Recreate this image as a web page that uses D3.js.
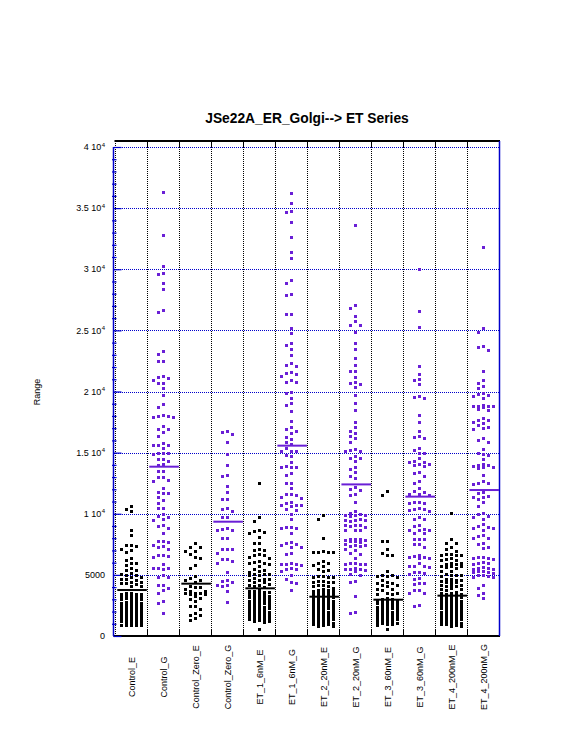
<!DOCTYPE html>
<html>
<head>
<meta charset="utf-8">
<script src="https://cdn.jsdelivr.net/npm/d3@7"></script>
<style>
  html, body { margin: 0; padding: 0; background: #ffffff; }
  svg { display: block; font-family: "Liberation Sans", Arial, Helvetica, sans-serif; }
</style>
</head>
<body>
<svg id="chart" width="576" height="734"></svg>
<script>
const chartTitle = "JSe22A_ER_Golgi--> ET Series";
const yLabel = "Range";
const categories = ["Control_E","Control_G","Control_Zero_E","Control_Zero_G","ET_1_6nM_E","ET_1_6nM_G","ET_2_20nM_E","ET_2_20nM_G","ET_3_60nM_E","ET_3_60nM_G","ET_4_200nM_E","ET_4_200nM_G"];
const seriesKind = ["E","G","E","G","E","G","E","G","E","G","E","G"];
const meanValues = [3760, 13850, 4280, 9350, 3900, 15570, 3215, 12400, 2970, 11400, 3300, 11940];
const yTickValues = [0, 5000, 10000, 15000, 20000, 25000, 30000, 35000, 40000];
const yTickLabels = ["0", "5000", "1 10^4", "1.5 10^4", "2 10^4", "2.5 10^4", "3 10^4", "3.5 10^4", "4 10^4"];

const controlE = [10600,10400,10200,8700,8300,7450,7450,7400,7100,7050,6900,6350,6200,5950,5950,5800,5600,5400,5400,5150,5100,5000,4950,4800,4800,4650,4650,4600,4450,4400,4300,4300,4250,4100,4050,
  3500,3480,3450,3420,3400,3300,3280,3250,3220,3200,3100,3080,3050,3020,3000,
  2850,2810,2760,2720,2690,2650,2600,2570,2520,2480,2450,2400,2370,2320,2280,2250,2200,2170,2120,2080,2050,2000,1970,1920,1880,1850,1800,1770,1720,1680,1650,1600,1570,1520,1480,1450,1400,1370,1320,1280,1250,1200,1170,1120,1080,1050,
  920,900,900,880,900];
const controlG = [36300,32800,30300,29700,29600,28900,28400,26700,26500,23300,23100,22500,22500,21300,21200,21100,20900,20700,20700,20300,19700,19000,18700,18100,18000,18000,17900,17900,17200,16900,16900,16700,16400,15800,15600,15600,15600,15400,15000,15000,14950,14900,14450,14450,14300,14100,14000,13500,13500,13000,13000,12800,12650,12100,11750,11700,11700,11400,11100,10850,10500,10450,9950,9800,9750,9550,9500,9100,9000,8800,8400,7800,7750,7700,7450,7400,7250,7100,6600,6600,6550,6500,5900,5600,5600,5550,5500,4950,4850,4800,4200,4200,3900,3800,3550,2900,2700,1900];
const controlZeroE = [7580,7250,7250,6930,6930,6680,6440,6360,5780,5540,4880,4720,4560,4560,4390,4060,4030,4030,3820,3680,3660,3500,3490,3480,3450,3400,3250,3080,3050,2840,2430,2420,2180,1860,1720,1700,1450,1280];
const controlZeroG = [16750,16700,16500,15900,14850,13950,13200,13050,12300,11800,11200,11200,10450,10350,10200,9700,9700,8850,8750,8700,8650,8050,8000,7100,7100,7100,6750,6300,6300,6100,6000,5200,4550,4500,4400,4200,4150,4050,3650,2750];
const et1E = [12500,9700,9400,8700,8550,8500,8400,8070,7600,7580,7100,7050,7000,6680,6600,6600,6440,6360,6100,6050,6000,5950,5900,5700,5450,5400,5300,5200,5100,5050,5050,5000,4950,4720,4700,4650,4600,4550,4450,4400,4250,4200,4150,4100,4000,
  3750,3700,3660,3600,3560,3500,3460,3400,3350,3300,3260,3200,3150,3100,3060,3000,2950,2900,2860,2800,2750,2700,2660,2600,2550,2500,2460,2400,2350,2300,2260,2200,2150,2100,2060,2000,1950,1900,1860,1800,1750,1700,1660,1600,1550,1500,1460,1400,1350,1300,1250,1200,1150,550];
const et1G = [36200,35400,34800,34700,33900,32600,31400,30900,29100,28850,28000,27900,26300,26300,25200,24800,24000,23800,23500,23000,22300,22200,22100,21600,21500,21400,21300,20900,20750,20750,20000,19900,19500,19100,18900,18400,17600,17100,16950,16750,16600,16250,16100,15900,15700,15350,15100,15100,15100,14800,14700,14200,13900,13850,13850,13800,13300,13200,12500,12500,12100,11650,11600,11550,11400,11300,11000,10850,10750,10700,10700,10650,10400,10300,9950,9550,8950,8900,8850,8800,8400,7650,7600,7550,7450,7300,7250,6750,6700,5950,5900,5900,5850,5800,5600,5500,5450,5300,4950,4700,4400,4350,3800];
const et2E = [9870,9550,8000,6950,6900,6900,6880,6850,6100,6000,5950,5800,5700,5450,5400,5300,
  4900,4870,4850,4830,4800,4500,4480,4450,4420,4400,4200,4150,4100,4050,3900,3850,3800,3750,3700,3650,3600,3550,3500,3450,3400,3350,3300,
  3250,3200,3150,3100,3050,3000,2950,2900,2850,2800,2750,2700,2650,2600,2550,2500,2450,2400,2350,2300,2250,2200,2150,2100,2050,2000,1950,1900,1850,1800,1750,1700,1650,1600,1550,1500,1450,1400,1350,1300,1250,1200,1150,1100,1050,1000,950,900,850,800];
const et2G = [33600,27050,26800,26150,25800,25400,25400,24900,24000,23450,22700,22200,21650,21650,21200,20750,20700,20600,20350,19700,19100,18500,17500,17100,
  16800,16600,16400,16200,15900,15300,15200,15150,15100,14700,14600,14550,14300,13800,13650,13400,13100,12900,
  12200,12000,11950,11600,11500,11000,10200,10100,9950,9900,9900,9880,9850,9550,9500,9480,9450,9400,9100,9080,9050,9000,8950,8700,8680,8650,7950,7900,7900,7880,7850,7800,7750,7700,7500,7450,7450,7400,7350,7100,7050,6750,6700,6350,5950,5950,5900,5900,5850,5550,5500,5500,5450,5400,5300,5050,5000,4500,4450,3250,1950,1850];
const et3E = [11850,11500,7800,7750,7100,6750,6600,6600,5300,4950,4950,4900,4900,4850,4600,4400,4350,4300,4200,4150,4100,3850,3850,3800,3550,3550,3400,3400,
  3100,3060,3000,2950,2900,2860,2800,2750,2700,2660,2600,2550,2500,2460,2400,2350,2300,2260,2200,2150,2100,2060,2000,1950,1900,1860,1800,1750,1700,1660,1600,1550,1500,1460,1400,1350,1300,1260,1200,1150,1100,1060,1000,950,900,550];
const et3G = [30000,26600,25300,22050,21400,21000,20900,20600,19600,19550,19500,18050,17500,16750,16350,16300,16200,15400,15200,15000,14950,14600,14300,14250,14200,14100,14050,14000,13900,13400,13350,13050,12650,12500,12100,11900,11750,11600,11600,11550,
  11000,10950,10900,10850,10450,10400,10350,10300,10250,9700,9550,9550,9050,9000,8750,8700,8700,8650,8400,8400,7950,7900,7900,7500,7500,7250,6600,6550,6450,6450,6360,6350,6000,5700,5700,5700,5650,5250,5200,5150,5100,4750,4700,4300,4300,4250,3800,3750,3550,3500,2500,2450];
const et4E = [10100,7900,7600,7600,7250,7100,6950,6700,6680,6650,6620,6600,6350,6300,6250,6200,5950,5950,5900,5900,5750,5700,5700,5650,5600,5300,5300,5050,5000,4950,4950,4900,4700,4650,4600,4550,4500,4450,4450,4400,4200,4200,4150,4100,4050,3900,3850,3850,3800,
  3600,3550,3500,3450,3400,3350,3300,3250,3200,3150,3100,3050,3000,2950,2900,2850,2800,2750,2700,2650,2600,2550,2500,2450,2400,2350,2300,2250,2200,2150,2100,2050,2000,1950,1900,1850,1800,1750,1700,1650,1600,1550,1500,1450,1400,1350,1300,1250,1200,1150,1100,1050,1000,950,900,850,800];
const et4G = [31800,25200,24850,23700,23600,23400,21700,20900,20700,20450,20300,19900,19800,19700,19600,19500,18900,18850,18850,18800,18800,18750,18600,18500,17800,17700,17650,17500,17400,17300,17100,17000,16950,16200,16000,15900,15300,15000,14900,14800,14500,14050,14000,13950,13900,13850,13800,13750,13200,12650,12550,12500,12450,
  11750,11700,11450,11400,11350,11200,11000,10600,10100,10000,9800,9700,9600,9150,9000,8900,8850,8800,8700,8300,8150,8050,8000,7600,7550,7250,7200,6500,6450,6400,6350,6300,6050,6000,5950,5900,5650,5600,5550,5500,5450,5350,5300,5250,5200,5150,5000,4950,4900,4850,4800,4200,3900,3500,3330,3080];

const seriesValues = [controlE, controlG, controlZeroE, controlZeroG, et1E, et1G, et2E, et2G, et3E, et3G, et4E, et4G];

const colorE = "#000000";
const colorG = "#6a1fd6";
const blue = "#0000cc";

const svg = d3.select("#chart");
svg.append("rect").attr("width", 576).attr("height", 734).attr("fill", "#fff");

const plot = { left: 113.5, right: 499.5, top: 141, bottom: 636 };
const x = d3.scaleBand().domain(categories).range([115.3, 499.5]).padding(0);
const y = d3.scaleLinear().domain([0, 40000]).range([636, 147]);

// horizontal dotted grid (blue)
svg.append("g").attr("shape-rendering", "crispEdges").selectAll("line").data(yTickValues.filter(v => v > 0)).join("line")
  .attr("x1", plot.left).attr("x2", plot.right)
  .attr("y1", d => Math.round(y(d)) + 0.5).attr("y2", d => Math.round(y(d)) + 0.5)
  .attr("stroke", blue).attr("stroke-width", 1).attr("stroke-dasharray", "1,1");

// vertical dotted category separators (black)
const edges = categories.map(c => x(c)).concat([x.range()[1]]);
svg.append("g").attr("shape-rendering", "crispEdges").selectAll("line").data(edges.slice(0, 12)).join("line")
  .attr("x1", d => Math.round(d) + 0.5).attr("x2", d => Math.round(d) + 0.5)
  .attr("y1", plot.top).attr("y2", plot.bottom)
  .attr("stroke", "#000").attr("stroke-width", 1).attr("stroke-dasharray", "1,1");
// solid small ticks at top and bottom of separators
svg.append("g").selectAll("line").data(edges.slice(1, 12)).join("line")
  .attr("x1", d => Math.round(d) + 0.5).attr("x2", d => Math.round(d) + 0.5)
  .attr("y1", plot.top).attr("y2", plot.top + 6)
  .attr("stroke", "#000").attr("stroke-width", 1);
svg.append("g").selectAll("line").data(edges.slice(1, 12)).join("line")
  .attr("x1", d => Math.round(d) + 0.5).attr("x2", d => Math.round(d) + 0.5)
  .attr("y1", plot.bottom - 6).attr("y2", plot.bottom)
  .attr("stroke", "#000").attr("stroke-width", 1);

// frame
svg.append("line").attr("x1", plot.left + 1).attr("x2", plot.right + 0.5).attr("y1", plot.top).attr("y2", plot.top)
  .attr("stroke", "#000").attr("stroke-width", 2);
svg.append("line").attr("x1", plot.left).attr("x2", plot.right + 0.5).attr("y1", plot.bottom).attr("y2", plot.bottom)
  .attr("stroke", "#000").attr("stroke-width", 2);
svg.append("line").attr("x1", plot.right).attr("x2", plot.right).attr("y1", plot.top).attr("y2", plot.bottom)
  .attr("stroke", blue).attr("stroke-width", 1.5);

// y axis (blue) via d3 axis, ticks inward
const yAxis = d3.axisRight(y).tickValues(yTickValues).tickSize(8).tickFormat("");
const gAxis = svg.append("g").attr("transform", `translate(${plot.left},0)`).call(yAxis);
gAxis.select(".domain").attr("stroke", blue).attr("stroke-width", 1.5).attr("d", `M0,${y(40000)}V${plot.bottom}`);
gAxis.selectAll(".tick line").attr("stroke", blue).attr("stroke-width", 1.2);
const minorTicks = d3.range(0, 40001, 1000).filter(v => v % 5000 !== 0);
const yMinor = d3.axisRight(y).tickValues(minorTicks).tickSize(3).tickFormat("");
const gMinor = svg.append("g").attr("transform", `translate(${plot.left},0)`).call(yMinor);
gMinor.select(".domain").remove();
gMinor.selectAll(".tick line").attr("stroke", blue).attr("stroke-width", 1.2).attr("x1", -1.5);

// y tick labels
const labelG = svg.append("g");
yTickValues.forEach((v, i) => {
  const parts = yTickLabels[i].split("^");
  const t = labelG.append("text")
    .attr("x", 105).attr("y", y(v)).attr("dy", "0.35em")
    .attr("text-anchor", "end").attr("font-size", 9).attr("fill", "#000");
  t.append("tspan").text(parts[0]);
  if (parts.length > 1) {
    t.append("tspan").attr("font-size", 6).attr("dy", "-0.6em").attr("dx", "0.5").text(parts[1]);
  }
});

// y label
svg.append("text").attr("transform", "translate(37,392) rotate(-90)")
  .attr("text-anchor", "middle").attr("dy", "0.35em").attr("font-size", 9).text(yLabel);

// title
svg.append("text").attr("x", 307).attr("y", 123).attr("text-anchor", "middle")
  .attr("font-size", 13.8).attr("font-weight", "bold").text(chartTitle);

// category labels
svg.append("g").selectAll("text").data(categories).join("text")
  .attr("transform", d => `translate(${x(d) + x.bandwidth() / 2 + 0.5},677) rotate(-90)`)
  .attr("text-anchor", "middle").attr("dy", "0.35em").attr("font-size", 9).text(d => d);

// beeswarm layout: top-down, 5 slots
const slotOffsets = [0, -5, 5, -10, 10];
const pts = [];
seriesValues.forEach((vals, ci) => {
  const cx = x(categories[ci]) + x.bandwidth() / 2;
  const last = slotOffsets.map(() => -Infinity);
  const sorted = vals.slice().sort((a, b) => b - a);
  sorted.forEach(v => {
    const py = Math.round(y(v));
    let chosen = -1;
    for (let s = 0; s < slotOffsets.length; s++) {
      if (py - last[s] >= 5) { chosen = s; break; }
    }
    if (chosen < 0) {
      let best = 0, bestGap = -1;
      for (let s = 0; s < slotOffsets.length; s++) {
        const g = py - last[s];
        if (g > bestGap) { bestGap = g; best = s; }
      }
      chosen = best;
    }
    last[chosen] = py;
    pts.push({ x: Math.round(cx + slotOffsets[chosen]), y: py, kind: seriesKind[ci] });
  });
});

svg.append("g").attr("shape-rendering", "crispEdges").selectAll("rect").data(pts).join("rect")
  .attr("x", d => d.x - 1.5).attr("y", d => d.y - 1.5)
  .attr("width", 3.6).attr("height", 3.6)
  .attr("fill", d => d.kind === "E" ? colorE : colorG);

// mean lines
svg.append("g").selectAll("line").data(categories).join("line")
  .attr("x1", d => x(d) + 2).attr("x2", d => x(d) + x.bandwidth() - 0.5)
  .attr("y1", (d, i) => y(meanValues[i])).attr("y2", (d, i) => y(meanValues[i]))
  .attr("stroke", (d, i) => seriesKind[i] === "E" ? colorE : colorG)
  .attr("stroke-width", 2);
</script>
</body>
</html>
